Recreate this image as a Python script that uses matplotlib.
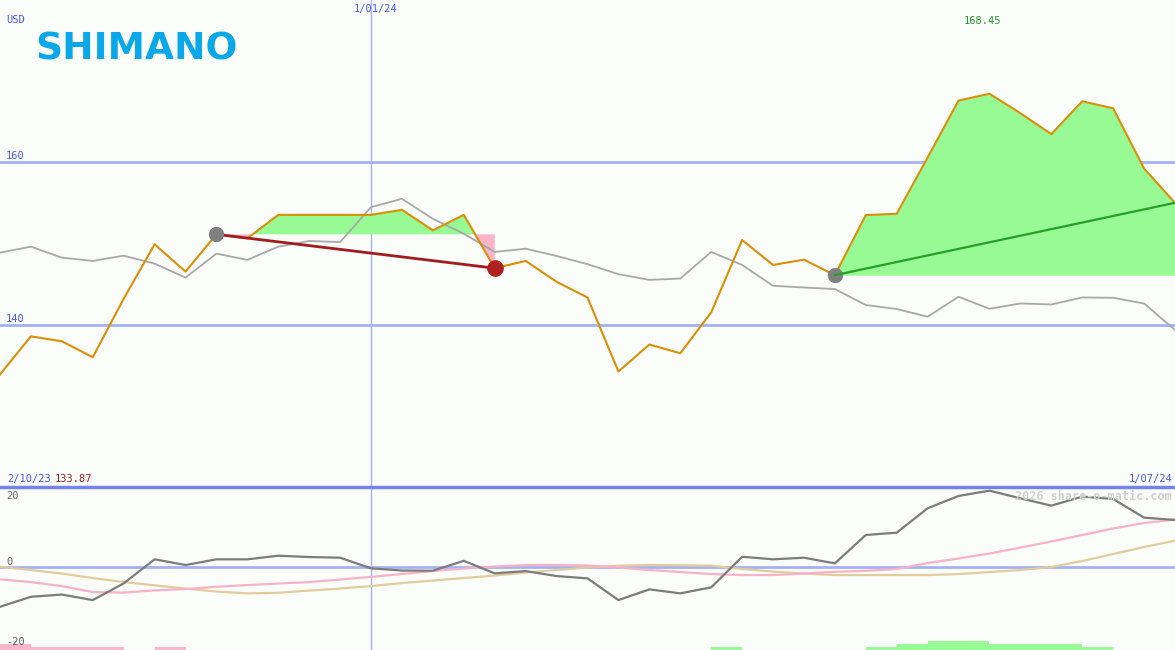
import matplotlib
matplotlib.use("agg")

import matplotlib.pyplot as plt
import numpy as np


# Weekly closing prices (USD) and comparison line.
price = [133.87, 138.56, 137.95, 135.99, 143.19, 149.90, 146.54, 151.13, 150.64, 153.53,
         153.53, 153.53, 153.53, 154.15, 151.62, 153.53, 146.96, 147.85, 145.28, 143.35,
         134.23, 137.55, 136.48, 141.51, 150.43, 147.36, 148.01, 146.10, 153.50, 153.66,
         160.60, 167.61, 168.45, 166.05, 163.47, 167.52, 166.66, 159.23, 155.01]
index_line = [148.87, 149.61, 148.26, 147.85, 148.50, 147.52, 145.80, 148.75, 147.98, 149.61,
              150.31, 150.18, 154.48, 155.50, 153.04, 151.20, 148.96, 149.36, 148.47, 147.45,
              146.22, 145.52, 145.68, 148.96, 147.36, 144.79, 144.58, 144.39, 142.42, 141.93,
              140.98, 143.44, 141.96, 142.61, 142.49, 143.35, 143.31, 142.61, 139.35]

# Oscillator panel.
momentum = [-10.88, -8.14, -7.53, -9.04, -4.47, 2.11, 0.55, 2.11, 2.11, 3.10,
            2.74, 2.55, -0.36, -0.96, -1.01, 1.70, -1.73, -1.10, -2.47, -3.10,
            -9.04, -6.11, -7.20, -5.56, 2.82, 2.11, 2.55, 1.01, 8.77, 9.40,
            16.08, 19.45, 20.90, 18.80, 16.80, 19.26, 18.63, 13.51, 12.88]
slow_pink = [-3.37, -4.11, -5.21, -6.85, -6.99, -6.38, -6.03, -5.40, -4.93, -4.52,
             -4.11, -3.42, -2.68, -1.92, -1.10, -0.41, 0.14, 0.55, 0.55, 0.41,
             -0.14, -0.82, -1.37, -1.92, -2.19, -2.19, -1.78, -1.29, -1.04, -0.55,
             1.10, 2.33, 3.70, 5.34, 6.99, 8.77, 10.55, 12.05, 13.00]
slow_tan = [0.08, -0.82, -1.78, -3.01, -4.11, -5.01, -5.89, -6.71, -7.21, -7.04,
            -6.44, -5.89, -5.21, -4.38, -3.70, -3.01, -2.33, -1.51, -0.82, -0.14,
            0.36, 0.55, 0.49, 0.38, -0.55, -1.23, -1.78, -2.19, -2.19, -2.19,
            -2.19, -1.92, -1.37, -0.82, 0.00, 1.64, 3.56, 5.48, 7.21]

# Signal strength per week (negative = sell, positive = buy).
signal = [-2, -1, -1, -1, 0, -1, 0, 0, 0, 0, 0, 0, 0, 0, 0, 0, 0, 0, 0, 0,
          0, 0, 0, 1, 0, 0, 0, 0, 1, 2, 3, 3, 2, 2, 2, 1, 0, 0]

# Trades: (entry index, exit index)
trades = [(7, 16), (27, 38)]

start_label, end_label, mid_label = "2/10/23", "1/07/24", "1/01/24"
mid_index = 12

bg = "#fbfdfb"
grid_c = "#a4b2f2"
blue_txt = "#4a58f0"

W, H = 1175, 650
fig = plt.figure(figsize=(W / 100, H / 100), dpi=100, facecolor=bg)
x = np.arange(len(price))
price = np.array(price)

# Price panel
ax = fig.add_axes([0, 163 / H, 1, 487 / H], facecolor=bg)
ax.set_xlim(0, len(price) - 1)
ax.set_ylim(120, 180)
ax.axis("off")
for lvl in (160, 140):
    ax.axhline(lvl, color=grid_c, lw=2, zorder=1)
ax.axvline(mid_index, color=grid_c, lw=1, zorder=1)

for i0, i1 in trades:
    xs = x[i0:i1 + 1]
    ps = price[i0:i1 + 1]
    entry = price[i0]
    ax.fill_between(xs, ps, entry, where=ps >= entry, interpolate=True,
                    color="#98fa94", lw=0, zorder=2)
    ax.fill_between(xs, ps, entry, where=ps < entry, interpolate=True,
                    color="#fcb4c8", lw=0, zorder=2)

ax.plot(x, index_line, color="#a8a8a8", lw=1.3, zorder=3)
ax.plot(x, price, color="#dc8e06", lw=1.5, zorder=4)

# Closed trade (loss) and open trade (gain)
i0, i1 = trades[0]
ax.plot([i0, i1], [price[i0], price[i1]], color="#a11c1c", lw=2, zorder=5)
ax.plot(i0, price[i0], "o", color="#808080", ms=10, zorder=6)
ax.plot(i1, price[i1], "o", color="#b02222", ms=11, zorder=6)
i0, i1 = trades[1]
ax.plot([i0, i1], [price[i0], price[i1]], color="#26a026", lw=1.6, zorder=5)
ax.plot(i0, price[i0], "o", color="#808080", ms=10, zorder=4)

# Oscillator panel
ax2 = fig.add_axes([0, 0, 1, 163 / H], facecolor=bg)
ax2.set_xlim(0, len(price) - 1)
ax2.set_ylim(-22.7, 21.9)
ax2.axis("off")
ax2.axhline(0, color=grid_c, lw=2, zorder=1)
ax2.axvline(mid_index, color=grid_c, lw=1, zorder=1)
ax2.plot(x, slow_tan, color="#e2cc9c", lw=1.6, zorder=2)
ax2.plot(x, slow_pink, color="#f8b2c8", lw=1.6, zorder=3)
ax2.plot(x, momentum, color="#7c7c7c", lw=1.6, zorder=4)

ax3 = ax2.twinx()
ax3.set_ylim(0, 163 / 3)
ax3.axis("off")
sig = np.array(signal)
bar_c = np.where(sig < 0, "#fcb4c8", "#98fa94")
ax3.bar(x[:-1], np.abs(sig), width=1, align="edge", color=bar_c, lw=0)

# Panel separator
fig.add_artist(plt.Line2D([0, 1], [163 / H, 163 / H], color="#7483ec", lw=2.5))


def label(px, py, s, color, ha="left", **kw):
    fig.text(px / W, 1 - py / H, s, color=color, ha=ha, va="center",
             family="DejaVu Sans Mono", fontsize=7.5, **kw)


label(6, 20, "USD", blue_txt)
label(6, 156, "160", blue_txt)
label(6, 319, "140", blue_txt)
label(376, 9, mid_label, blue_txt, ha="center")
label(982, 21, f"{price.max():.2f}", "#24962a", ha="center")
label(7, 479, start_label, blue_txt)
label(55, 479, f"{price[0]:.2f}", "#a11c1c")
label(1172, 479, end_label, blue_txt, ha="right")
label(6, 496, "20", "#606060")
label(6, 562, "0", "#606060")
label(6, 642, "-20", "#606060")
fig.text(1172 / W, 1 - 496 / H, "2026 share-o-matic.com", color="#d0d0d0",
         ha="right", va="center", family="DejaVu Sans Mono", fontsize=8.5,
         fontweight="bold")

fig.text(35 / W, 1 - 50 / H, "SHIMANO", color="#0aa8e8", ha="left", va="center",
         fontsize=27, fontweight="bold")

fig.savefig("out.png", dpi=100, facecolor=bg)
